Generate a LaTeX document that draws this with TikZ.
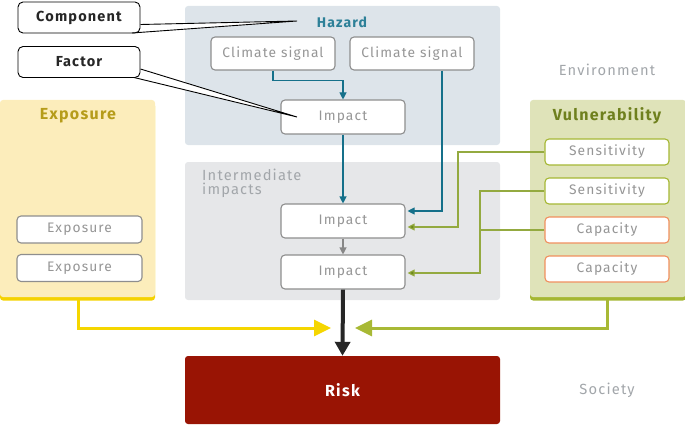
\documentclass[tikz,border=0pt]{standalone}
\usepackage{fontspec}
\setmainfont{Fira Sans}[LetterSpace=8]
\usetikzlibrary{arrows.meta,calc}
\definecolor{hazbg}{HTML}{DDE4EA}
\definecolor{intbg}{HTML}{E6E7E9}
\definecolor{tealc}{HTML}{15708A}
\definecolor{hazt}{HTML}{2D8098}
\definecolor{boxtxt}{HTML}{969696}
\definecolor{boxbd}{HTML}{8E8E8E}
\definecolor{expbg}{HTML}{FCEDBB}
\definecolor{expbd}{HTML}{F5D200}
\definecolor{expt}{HTML}{B69C1A}
\definecolor{vulbg}{HTML}{DFE3B9}
\definecolor{vulbd}{HTML}{A5B733}
\definecolor{vult}{HTML}{6F801E}
\definecolor{grline}{HTML}{94AA40}
\definecolor{grhead}{HTML}{6E8A1A}
\definecolor{orangec}{HTML}{F08F5E}
\definecolor{riskc}{HTML}{991404}
\definecolor{envt}{HTML}{A2A6AA}
\definecolor{ylw}{HTML}{F5D600}
\definecolor{grn}{HTML}{A8B935}
\tikzset{
  panel/.style={rounded corners=3pt, draw=none, inner sep=0pt},
  fbox/.style={rounded corners=4pt, fill=white, draw=boxbd, line width=1.1pt, inner sep=0pt,
    font=\fontsize{13.8}{15}\selectfont, text=boxtxt},
  greenbox/.style={fbox, draw=vulbd},
  orangebox/.style={fbox, draw=orangec},
  ptitle/.style={font=\fontsize{16}{18}\selectfont\bfseries},
  gtext/.style={text=envt, font=\fontsize{14.7}{16}\selectfont},
  callout/.style={rounded corners=5pt, fill=white, draw=black, line width=0.9pt,
    minimum width=122pt, minimum height=31pt, inner sep=0pt, font=\fontsize{14.5}{16}\selectfont\bfseries, text=black!85},
  tealarr/.style={draw=tealc, line width=1.1pt, -{Triangle[length=7pt,width=7pt]}},
  grarr/.style={draw=grline, line width=1.1pt, -{Triangle[length=7pt,width=7pt,fill=grhead]}},
}
\begin{document}
\begin{tikzpicture}[x=1pt,y=-1pt]
\useasboundingbox (0,0) rectangle (685,425);
% panels
\node[panel, fill=hazbg, minimum width=315pt, minimum height=139pt] (hazpanel) at (342.5,75.5) {};
\node[panel, fill=intbg, minimum width=315pt, minimum height=138pt] (intpanel) at (342.5,231) {};
\fill[expbd, rounded corners=3pt] (0,103) rectangle (155,300.5);
\node[panel, fill=expbg, minimum width=155pt, minimum height=197pt] (exppanel) at (77.5,198.5) {};
\fill[vulbd, rounded corners=3pt] (530,103) rectangle (686,300.5);
\node[panel, fill=vulbg, minimum width=156pt, minimum height=197pt] (vulpanel) at (608,198.5) {};
\node[panel, fill=riskc, minimum width=315pt, minimum height=68pt, text=white,
  font=\fontsize{16}{18}\selectfont\bfseries] (risk) at (342.5,390) {Risk};
% titles
\node[text=hazt, font=\fontsize{14}{16}\selectfont\bfseries] (hazt) at (342,22) {Hazard};
\node[ptitle, text=expt] (expt) at (78,116) {Exposure};
\node[ptitle, text=vult] (vult) at (607,116) {Vulnerability};
\node[gtext, anchor=north west, align=left, inner sep=0pt, font=\fontsize{14.7}{14}\selectfont] (intt) at (202,169) {Intermediate\\impacts};
\node[gtext] (env) at (607,70) {Environment};
\node[gtext] (soc) at (607,390) {Society};
% boxes
\node[fbox, minimum width=124pt, minimum height=33pt] (cs1) at (273,53.5) {Climate signal};
\node[fbox, minimum width=124pt, minimum height=33pt] (cs2) at (412,53.5) {Climate signal};
\node[fbox, minimum width=124pt, minimum height=34pt] (imp1) at (343,117) {Impact};
\node[fbox, minimum width=124pt, minimum height=34pt] (imp2) at (343,221) {Impact};
\node[fbox, minimum width=124pt, minimum height=34pt] (imp3) at (343,272) {Impact};
\node[fbox, minimum width=125pt, minimum height=27pt] (ex1) at (79.5,229.5) {Exposure};
\node[fbox, minimum width=125pt, minimum height=27pt] (ex2) at (79.5,268) {Exposure};
\node[greenbox, minimum width=124pt, minimum height=26pt] (sen1) at (607,152) {Sensitivity};
\node[greenbox, minimum width=124pt, minimum height=26pt] (sen2) at (607,191) {Sensitivity};
\node[orangebox, minimum width=124pt, minimum height=26pt] (cap1) at (607,230) {Capacity};
\node[orangebox, minimum width=124pt, minimum height=26pt] (cap2) at (607,269) {Capacity};
% connectors
\draw[tealarr] (cs1.south) -- ++(0,10) -| (imp1.north);
\draw[tealarr] ([xshift=30pt]cs2.south) |- ([yshift=10pt,xshift=2pt]imp2.east);
\draw[tealarr] (imp1.south) -- (imp2.north);
\draw[draw=boxtxt!90!black, line width=1.1pt, -{Triangle[length=7pt,width=7pt]}] (imp2.south) -- (imp3.north);
\draw[grarr] (sen1.west) -- (458,152) -- (458,227) -- ([yshift=-6pt,xshift=2pt]imp2.east);
\draw[grarr] (sen2.west) -- (480,191) -- (480,273) -- ([yshift=-1pt,xshift=2pt]imp3.east);
\draw[draw=grline, line width=1.1pt] (cap1.west) -- (480,230);
\coordinate (yend) at (331,328);
\coordinate (gend) at (355,328);
\draw[draw=ylw, line width=3pt, -{Triangle[length=17pt,width=16pt]}] (78,300) -- (78,328) -- (yend);
\draw[draw=grn, line width=3pt, -{Triangle[length=17pt,width=16pt]}] (607,300) -- (607,328) -- (gend);
\draw[draw=black!85, line width=4pt, -{Triangle[length=14pt,width=15pt]}] (imp3.south) -- (risk.north);
% callouts
\coordinate (tipA) at (297,21);
\coordinate (tipB) at (297,117);
\node[callout] (comp) at (79,17.5) {Component};
\fill[white] (141,24.5) -- (tipA) -- (132,33.5) -- (141,33.5) -- cycle;
\draw[black, line width=0.9pt] (140.5,24.5) -- (tipA) -- (132,33);
\node[callout] (fact) at (79,62) {Factor};
\fill[white] (141,69) -- (tipB) -- (134,78) -- (141,78) -- cycle;
\draw[black, line width=0.9pt] (140.5,69) -- (tipB) -- (134,77.5);
\end{tikzpicture}
\end{document}
